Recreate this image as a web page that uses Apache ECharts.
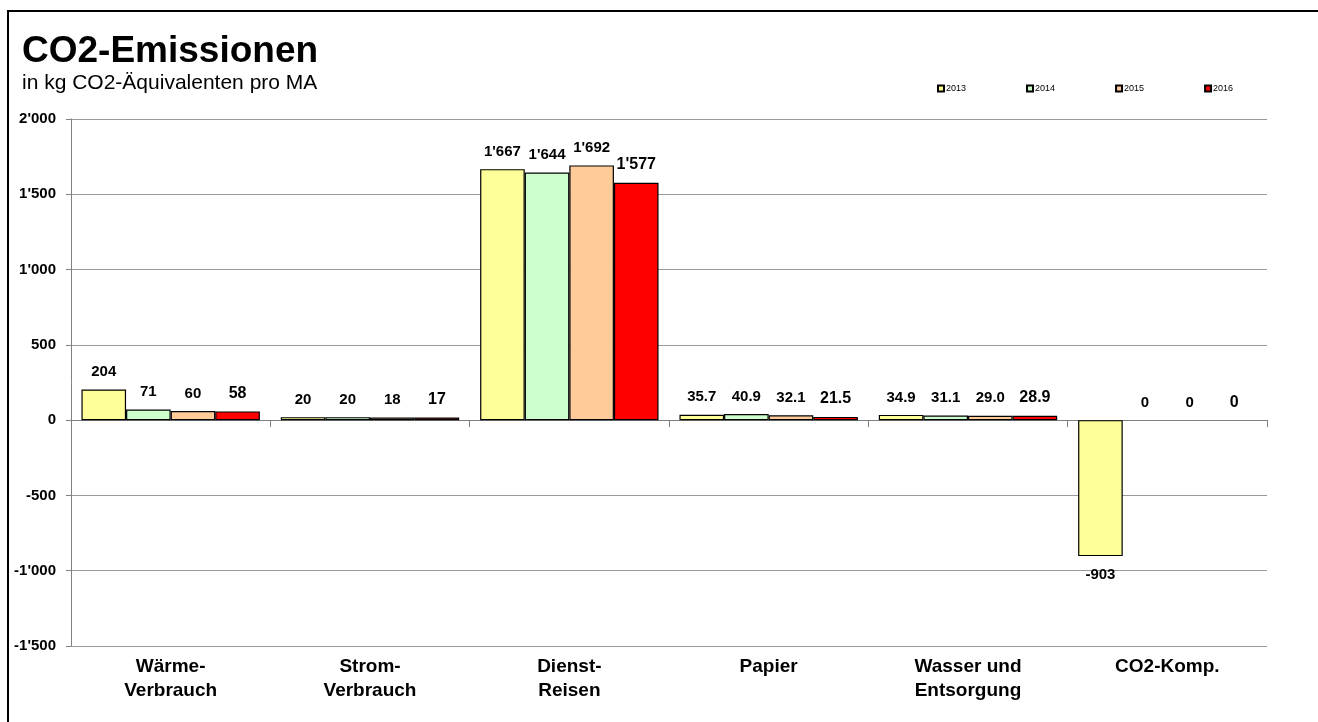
<!DOCTYPE html>
<html>
<head>
<meta charset="utf-8">
<script src="https://cdn.jsdelivr.net/npm/echarts@6/dist/echarts.min.js"></script>
<style>
html,body{margin:0;padding:0;background:#fff;}
#frame{position:absolute;left:7px;top:10px;width:1400px;height:800px;border-left:2px solid #000;border-top:2px solid #000;}
#main{position:absolute;left:0;top:0;width:1318px;height:722px;}
</style>
</head>
<body>
<div id="frame"></div>
<div id="main"></div>
<script>
const categories = ['Wärme-\nVerbrauch', 'Strom-\nVerbrauch', 'Dienst-\nReisen', 'Papier', 'Wasser und\nEntsorgung', 'CO2-Komp.'];
const decimalCats = [false, false, false, true, true, false];
const years = ['2013', '2014', '2015', '2016'];
const v2013 = [204, 20, 1667, 35.7, 34.9, -903];
const v2014 = [71, 20, 1644, 40.9, 31.1, 0];
const v2015 = [60, 18, 1692, 32.1, 29.0, 0];
const v2016 = [58, 17, 1577, 21.5, 28.9, 0];
const yTicks = [-1500, -1000, -500, 0, 500, 1000, 1500, 2000];

const colors = ['#FFFF99', '#CCFFCC', '#FFCC99', '#FF0000'];
const allVals = [v2013, v2014, v2015, v2016];
const FONT = 'Liberation Sans, Arial, sans-serif';

function fmtThousands(v) {
  const neg = v < 0;
  let s = String(Math.abs(Math.round(v)));
  s = s.replace(/\B(?=(\d{3})+(?!\d))/g, "'");
  return (neg ? '-' : '') + s;
}
function fmtLabel(v, idx) {
  if (decimalCats[idx]) return v.toFixed(1);
  return fmtThousands(v);
}

const series = allVals.map((vals, si) => ({
  name: years[si],
  type: 'bar',
  xAxisIndex: 0,
  barGap: '0%',
  barCategoryGap: '10.5%',
  itemStyle: { color: colors[si], borderColor: '#000', borderWidth: 1.2 },
  label: {
    show: true,
    position: 'top',
    distance: 10,
    fontFamily: FONT,
    fontWeight: 'bold',
    fontSize: si === 3 ? 16 : 15,
    color: '#000',
    formatter: p => fmtLabel(p.value, p.dataIndex)
  },
  data: vals.map(v => {
    if (v < 0) return { value: v, label: { position: 'bottom', distance: 11 } };
    if (v === 0) return { value: v, itemStyle: { borderWidth: 0 } };
    return v;
  })
}));

const chart = echarts.init(document.getElementById('main'), null, { renderer: 'canvas' });
chart.setOption({
  animation: false,
  backgroundColor: 'transparent',
  title: {
    text: 'CO2-Emissionen',
    subtext: 'in kg CO2-Äquivalenten pro MA',
    left: 17,
    top: 28,
    itemGap: 3,
    textStyle: { fontFamily: FONT, fontWeight: 'bold', fontSize: 37, color: '#000' },
    subtextStyle: { fontFamily: FONT, fontSize: 21, color: '#000' }
  },
  legend: {
    data: years,
    left: 932,
    top: 79,
    itemWidth: 6,
    itemHeight: 6,
    itemGap: 60,
    icon: 'rect',
    textStyle: { fontFamily: FONT, fontSize: 9, color: '#000', padding: [0, 0, 0, -3] }
  },
  grid: { left: 71, right: 51, top: 119, bottom: 76, containLabel: false },
  xAxis: [
    {
      type: 'category',
      data: categories,
      axisLine: { onZero: true, lineStyle: { color: '#808080', width: 1 } },
      axisTick: { show: true, length: 7, lineStyle: { color: '#808080' } },
      axisLabel: { show: false },
      splitLine: { show: false }
    },
    {
      type: 'category',
      data: categories,
      position: 'bottom',
      axisLine: { show: false },
      axisTick: { show: false },
      axisLabel: {
        show: true,
        margin: 9,
        fontFamily: FONT,
        fontWeight: 'bold',
        fontSize: 19,
        lineHeight: 24,
        color: '#000'
      }
    }
  ],
  yAxis: {
    type: 'value',
    min: yTicks[0],
    max: yTicks[yTicks.length - 1],
    interval: 500,
    axisLine: { show: true, lineStyle: { color: '#808080', width: 1 } },
    axisTick: { show: true, length: 5, lineStyle: { color: '#808080' } },
    axisLabel: {
      margin: 15,
      fontFamily: FONT,
      fontWeight: 'bold',
      fontSize: 15,
      color: '#000',
      formatter: v => fmtThousands(v)
    },
    splitLine: { show: true, lineStyle: { color: '#999', width: 1 } }
  },
  series: series
});
</script>
</body>
</html>
